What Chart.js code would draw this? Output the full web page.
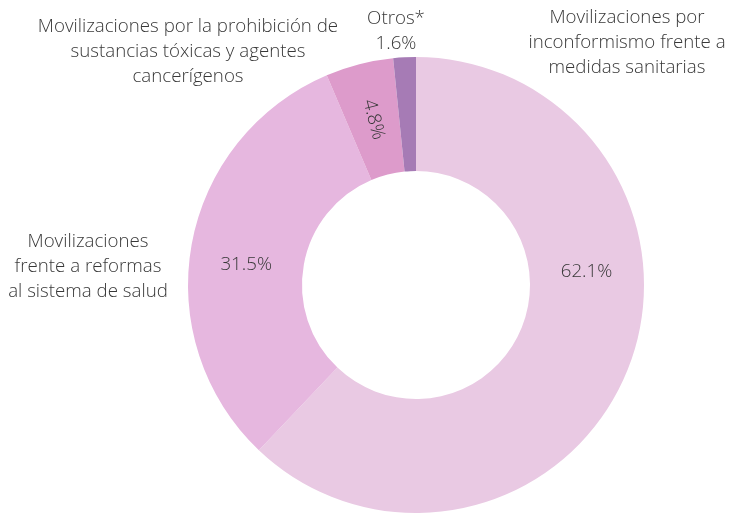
<!DOCTYPE html>
<html>
<head>
<meta charset="utf-8">
<script src="https://cdn.jsdelivr.net/npm/chart.js@4"></script>
<style>
  html, body { margin: 0; padding: 0; background: #fff; }
  #wrap { width: 729px; height: 513px; }
</style>
</head>
<body>
<div id="wrap"><canvas id="donut"></canvas></div>
<script>
const categories = [
    "Movilizaciones por inconformismo frente a medidas sanitarias",
    "Movilizaciones frente a reformas al sistema de salud",
    "Movilizaciones por la prohibición de sustancias tóxicas y agentes cancerígenos",
    "Otros*"
];
const values = [62.1, 31.5, 4.8, 1.6];
const colors = ["#E9C9E3", "#E6B7DF", "#DD9BCB", "#A67BB5"];

// where along each slice the percent goes (0..1), null = outside
const labelAlong = [0.383, 0.47, 0.5, null];

const FONT = '300 18.7px "Open Sans", "Noto Sans", sans-serif';
const TEXT = "#383838";

// outer category labels (lines, centre x, first line y)
const outerLabels = [
    { lines: ["Movilizaciones por", "inconformismo frente a", "medidas sanitarias"], x: 627, y: 18 },
    { lines: ["Movilizaciones", "frente a reformas", "al sistema de salud"], x: 88, y: 242 },
    { lines: ["Movilizaciones por la prohibición de", "sustancias tóxicas y agentes", "cancerígenos"], x: 188, y: 27 },
    { lines: ["Otros*", values[3].toFixed(1) + "%"], x: 396, y: 19 }
];

const labelPlugin = {
    id: 'labels',
    afterDatasetsDraw(chart) {
        const ctx = chart.ctx;
        const arcs = chart.getDatasetMeta(0).data;
        ctx.save();
        ctx.font = FONT;
        ctx.fillStyle = TEXT;
        ctx.textAlign = 'center';
        ctx.textBaseline = 'middle';
        arcs.forEach((arc, i) => {
            if (labelAlong[i] === null) return;
            const p = arc.getProps(['x', 'y', 'startAngle', 'endAngle', 'innerRadius', 'outerRadius'], true);
            const a = p.startAngle + (p.endAngle - p.startAngle) * labelAlong[i];
            const r = (p.innerRadius + p.outerRadius) / 2;
            const tx = p.x + Math.cos(a) * r;
            const ty = p.y + Math.sin(a) * r;
            ctx.save();
            ctx.translate(tx, ty);
            if (values[i] < 10) ctx.rotate(a + Math.PI);
            ctx.fillText(values[i].toFixed(1) + "%", 0, 0);
            ctx.restore();
        });
        outerLabels.forEach(l => {
            l.lines.forEach((t, k) => ctx.fillText(t, l.x, l.y + k * 25));
        });
        ctx.restore();
    }
};

new Chart(document.getElementById('donut'), {
    type: 'doughnut',
    data: {
        labels: categories,
        datasets: [{
            data: values,
            backgroundColor: colors,
            borderWidth: 0,
            hoverOffset: 0
        }]
    },
    options: {
        responsive: true,
        maintainAspectRatio: false,
        animation: false,
        cutout: '50%',
        layout: { padding: { left: 188, right: 85, top: 57, bottom: 0 } },
        plugins: {
            legend: { display: false },
            tooltip: { enabled: false }
        }
    },
    plugins: [labelPlugin]
});
</script>
</body>
</html>
